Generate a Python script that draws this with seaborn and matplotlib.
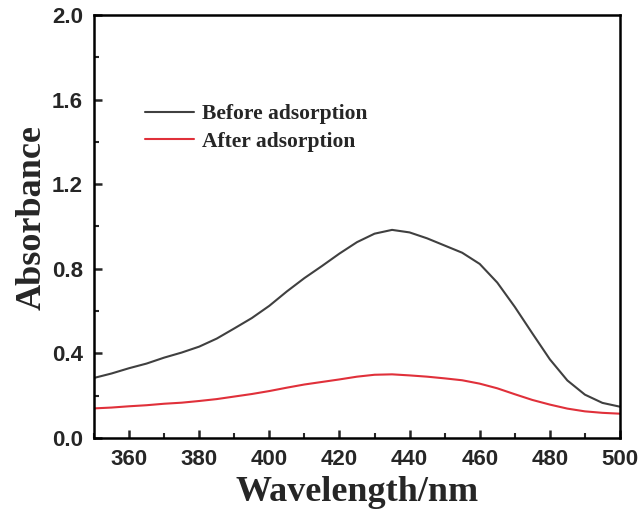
import matplotlib
matplotlib.use("Agg")
import matplotlib.pyplot as plt
import seaborn as sns
import pandas as pd
from matplotlib.ticker import MultipleLocator

wavelength = [350, 355, 360, 365, 370, 375, 380, 385, 390, 395, 400, 405, 410, 415,
              420, 425, 430, 435, 440, 445, 450, 455, 460, 465, 470, 475, 480, 485,
              490, 495, 500]
before = [0.284, 0.305, 0.330, 0.352, 0.380, 0.404, 0.432, 0.470, 0.518, 0.567, 0.625,
          0.693, 0.756, 0.813, 0.872, 0.926, 0.966, 0.984, 0.972, 0.944, 0.910, 0.876,
          0.823, 0.735, 0.620, 0.495, 0.372, 0.272, 0.205, 0.166, 0.148]
after = [0.140, 0.144, 0.150, 0.155, 0.162, 0.167, 0.175, 0.184, 0.196, 0.208, 0.222,
         0.238, 0.253, 0.265, 0.277, 0.290, 0.299, 0.301, 0.296, 0.290, 0.282, 0.273,
         0.257, 0.235, 0.207, 0.180, 0.158, 0.139, 0.126, 0.119, 0.115]
labels = ["Before adsorption", "After adsorption"]
colors = ["#404040", "#e0303a"]
xticks = [360, 380, 400, 420, 440, 460, 480, 500]

df = pd.concat([
    pd.DataFrame({"Wavelength": wavelength, "Absorbance": before, "Sample": labels[0]}),
    pd.DataFrame({"Wavelength": wavelength, "Absorbance": after, "Sample": labels[1]}),
])

sns.set_style("ticks")
fig = plt.figure(figsize=(6.42, 5.15), dpi=100)
ax = fig.add_axes([0.1464, 0.1495, 0.8193, 0.8214])
sns.lineplot(data=df, x="Wavelength", y="Absorbance", hue="Sample",
             palette=dict(zip(labels, colors)), linewidth=1.5, ax=ax)

ax.set_xlim(350, 500)
ax.set_ylim(0, 2.0)
ax.xaxis.set_minor_locator(MultipleLocator(10))
ax.yaxis.set_major_locator(MultipleLocator(0.4))
ax.yaxis.set_minor_locator(MultipleLocator(0.2))
ax.set_xticks(xticks)
ax.tick_params(which="major", direction="in", length=6, width=1.8,
               top=False, right=False)
ax.tick_params(which="minor", direction="in", length=3.5, width=1.5,
               top=False, right=False)
for s in ax.spines.values():
    s.set_linewidth(1.8)
    s.set_color("black")

tick_font = dict(family="Liberation Sans", weight="bold", size=16)
ax.set_xticklabels([str(v) for v in xticks], **tick_font)
ax.set_yticklabels([f"{v:.1f}" for v in ax.get_yticks()], **tick_font)
ax.tick_params(axis="x", pad=8)
ax.tick_params(axis="y", pad=8)

label_font = dict(family="Liberation Serif", weight="bold", size=26)
ax.set_xlabel("Wavelength/nm", labelpad=4, **label_font)
ax.set_ylabel("Absorbance", **label_font)
ax.yaxis.set_label_coords(-0.087, 0.52)

ax.legend(loc="upper left", bbox_to_anchor=(0.06, 0.835), frameon=False,
          handlelength=2.3, handletextpad=0.33, labelspacing=0.34,
          prop=dict(family="Liberation Serif", weight="bold", size=15.5))

fig.savefig("out.png", dpi=100)
